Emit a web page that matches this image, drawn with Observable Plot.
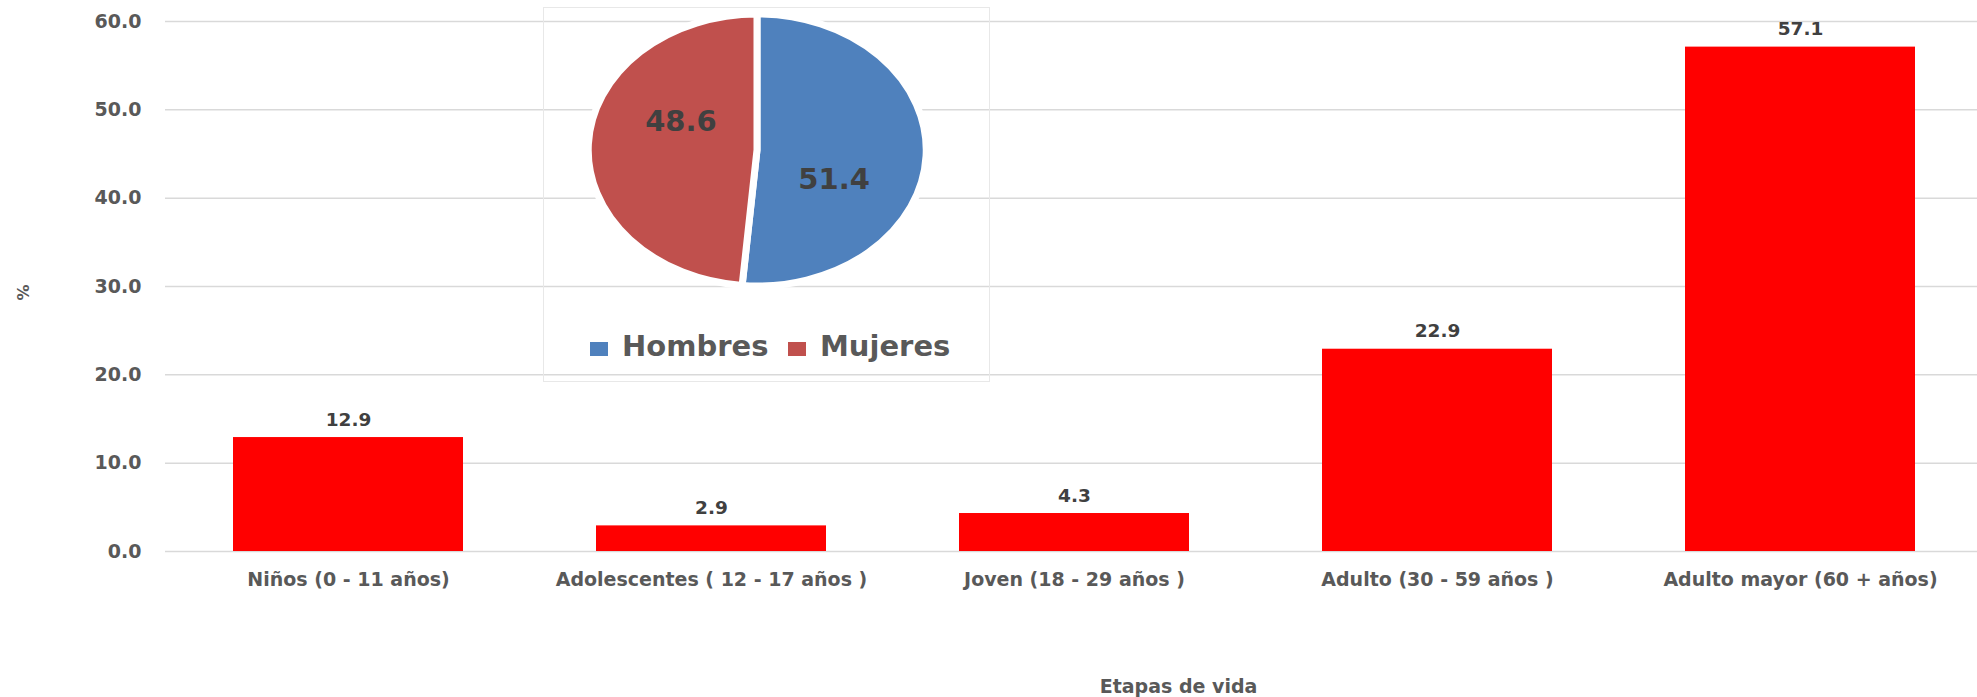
<!DOCTYPE html>
<html><head><meta charset="utf-8">
<script src="https://cdn.jsdelivr.net/npm/d3@7"></script>
<script src="https://cdn.jsdelivr.net/npm/@observablehq/plot@0.6"></script>
<style>
html,body{margin:0;padding:0;background:#fff;}
#wrap{position:relative;width:1977px;height:697px;overflow:hidden;font-family:"DejaVu Sans",sans-serif;font-weight:bold;}
#main{position:absolute;left:0;top:0;}
#insetBox{position:absolute;left:543px;top:7px;width:447px;height:375px;border:1px solid #e8e8e8;box-sizing:border-box;}
#inset{position:absolute;left:543px;top:7px;}
.lg-sq{position:absolute;width:18px;height:14px;}
.lg-tx{position:absolute;font-size:29px;line-height:29px;color:#595959;white-space:nowrap;}
</style></head>
<body>
<div id="wrap">
  <div id="main"></div>
  <div id="insetBox"></div>
  <div id="inset"></div>
  <div id="legend"></div>
</div>
<script>
// ---- data ----
const categories = ["Niños (0 - 11 años)", "Adolescentes ( 12 - 17 años )", "Joven (18 - 29 años )", "Adulto (30 - 59 años )", "Adulto mayor (60 + años)"];
const values = [12.9, 2.9, 4.3, 22.9, 57.1];
const yTicks = [0, 10, 20, 30, 40, 50, 60];
const xTitle = "Etapas de vida";
const yTitle = "%";
const sexes = ["Hombres", "Mujeres"];
const sexValues = [51.4, 48.6];
const sexColors = ["#4F81BD", "#C0504D"];

// ---- main bar chart ----
const data = categories.map((c, i) => ({cat: c, value: values[i]}));
const main = Plot.plot({
  width: 1977, height: 697,
  marginLeft: 165, marginRight: 0, marginTop: 21, marginBottom: 146,
  style: {fontFamily: '"DejaVu Sans", sans-serif', fontWeight: "bold", fontSize: "19px", color: "#595959", background: "transparent", overflow: "visible"},
  x: {domain: categories, range: [165, 1983], paddingInner: 0.367, paddingOuter: 0.184, tickSize: 0, tickPadding: 21, label: null},
  y: {domain: [0, 60], ticks: yTicks, tickFormat: d => d.toFixed(1), tickSize: 0, tickPadding: 24, label: null},
  marks: [
    Plot.ruleY(yTicks, {stroke: "#d9d9d9", strokeWidth: 1.5}),
    Plot.barY(data, {x: "cat", y: "value", fill: "#ff0000"}),
    Plot.text(data, {x: "cat", y: "value", text: d => d.value.toFixed(1), dy: -12, lineAnchor: "bottom", fill: "#404040", fontSize: 18.5}),
    Plot.text([yTitle], {text: d => d, frameAnchor: "left", textAnchor: "middle", dx: -142, dy: 6, rotate: -90, fontSize: 16, fill: "#595959"}),
    Plot.text([xTitle], {text: d => d, frameAnchor: "bottom", dx: 107, dy: 141, lineAnchor: "bottom", fontSize: 19, fill: "#595959"})
  ]
});
document.getElementById("main").appendChild(main);

// ---- inset pie ----
const pieData = sexes.map((s, i) => ({sex: s, value: sexValues[i]}));
const arcs = d3.pie().sort(null).value(d => d.value)(pieData);
const arcGen = d3.arc().innerRadius(0).outerRadius(1);
// label placement (Excel "best fit"): mid-angle turned slightly clockwise, half radius
const labelTurn = Math.PI / 8, labelRadius = 0.5;
const labelData = arcs.map(a => {
  const ang = (a.startAngle + a.endAngle) / 2 + labelTurn;
  return {x: labelRadius * Math.sin(ang), y: labelRadius * Math.cos(ang), text: a.data.value.toFixed(1), sex: a.data.sex};
});

function pieMark(index, scales) {
  const x = scales.x, y = scales.y;
  const cx = x(0), cy = y(0), rx = x(1) - x(0), ry = y(-1) - y(0);
  const col = scales.color || (s => sexColors[sexes.indexOf(s)]);
  const g = d3.create("svg:g").attr("transform", `translate(${cx},${cy}) scale(${rx},${ry})`);
  g.selectAll("path").data(arcs).join("path")
    .attr("d", arcGen)
    .attr("fill", d => col(d.data.sex))
    .attr("stroke", "#fff").attr("stroke-width", 7)
    .attr("vector-effect", "non-scaling-stroke");
  return g.node();
}

const inset = Plot.plot({
  width: 446, height: 374,
  marginLeft: 45, marginRight: 63, marginTop: 7, marginBottom: 95,
  style: {fontFamily: '"DejaVu Sans", sans-serif', fontWeight: "bold", background: "transparent", overflow: "visible"},
  x: {domain: [-1, 1], axis: null},
  y: {domain: [-1, 1], axis: null},
  color: {domain: sexes, range: sexColors},
  marks: [
    pieMark,
    Plot.text(labelData, {x: "x", y: "y", text: "text", fontSize: 29, fill: "#404040"})
  ]
});
document.getElementById("inset").appendChild(inset);

// ---- legend ----
const legend = document.getElementById("legend");
const legendPos = [[590, 622], [788, 820]];
sexes.forEach((s, i) => {
  const sq = document.createElement("div");
  sq.className = "lg-sq";
  sq.style.left = legendPos[i][0] + "px"; sq.style.top = "342px";
  sq.style.background = sexColors[i];
  legend.appendChild(sq);
  const tx = document.createElement("div");
  tx.className = "lg-tx";
  tx.style.left = legendPos[i][1] + "px"; tx.style.top = "332px";
  tx.textContent = s;
  legend.appendChild(tx);
});
</script>
</body></html>
